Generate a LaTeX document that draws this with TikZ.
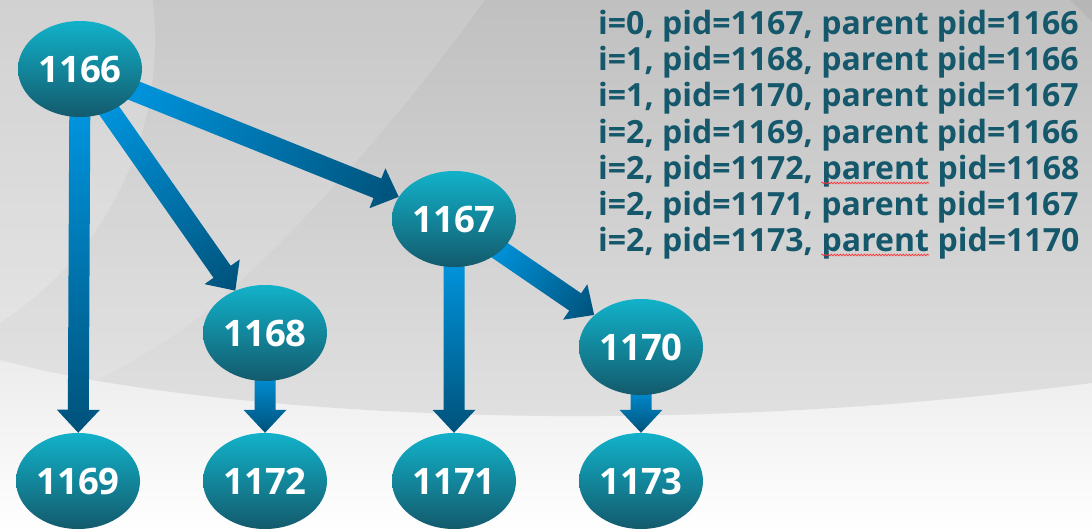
\documentclass[tikz,border=0pt]{standalone}
\usepackage{fontspec}
\setmainfont{Open Sans}
\usetikzlibrary{shapes.geometric,calc,decorations.pathmorphing}
\definecolor{nodetop}{HTML}{12B2CA}
\definecolor{nodebot}{HTML}{135A6C}
\definecolor{arA}{HTML}{0096E0}
\definecolor{arB}{HTML}{00527A}
\definecolor{txtc}{HTML}{15586B}
\definecolor{bgtop}{HTML}{C0C0C0}
\definecolor{bgmid}{HTML}{E0E0E0}
\definecolor{bglow}{HTML}{EAEAEA}
\newcommand\blkarrow[2]{%
  \path (#1) -- (#2) coordinate[pos=0] (#1-#2-s) coordinate[pos=1] (#1-#2-e);
  \pgfpointdiff{\pgfpointanchor{#1-#2-s}{center}}{\pgfpointanchor{#1-#2-e}{center}}%
  \pgfgetlastxy{\ardx}{\ardy}%
  \pgfmathsetmacro\arang{atan2(\ardy,\ardx)}%
  \pgfmathsetmacro\arlen{veclen(\ardx,\ardy)}%
  \begin{scope}[transform canvas={shift={(#1-#2-s)},rotate=\arang}]
    \shade[arrowfill]
      (-12pt,-10.5pt) -- ({\arlen pt-23pt},-10.5pt) -- ({\arlen pt-23pt},-21.5pt)
      -- (\arlen pt,0pt) -- ({\arlen pt-23pt},21.5pt) -- ({\arlen pt-23pt},10.5pt)
      -- (-12pt,10.5pt) -- cycle;
  \end{scope}}
\tikzset{
  proc/.style={ellipse, minimum width=124pt, minimum height=96pt, inner sep=0pt,
    top color=nodetop, bottom color=nodebot, text=white,
    font=\fontsize{36.5}{40}\selectfont\bfseries},
  arrowfill/.style={left color=arA, right color=arB},
  txt/.style={anchor=base west, inner sep=0pt, text=txtc,
    font=\fontsize{32}{36}\selectfont\bfseries},
  wavy/.style={draw=red!80!white, line width=0.7pt, decorate,
    decoration={snake, amplitude=0.9pt, segment length=3pt}}
}
\begin{document}
\begin{tikzpicture}[x=1pt,y=-1pt]
\useasboundingbox (0,0) rectangle (1092,532);
% background
\fill[bglow] (0,0) rectangle (1092,340);
\shade[top color=bglow, bottom color=white] (0,340) rectangle (1092,532);
\shade[top color=bgtop, bottom color=bgmid]
  (0,0) -- (1092,0) -- (1092,383) .. controls (900,408) and (720,417) .. (550,416)
  .. controls (320,414) and (120,392) .. (0,360) -- cycle;
\begin{scope}
  \clip (0,0) -- (1092,0) -- (1092,383) .. controls (900,408) and (720,417) .. (550,416)
  .. controls (320,414) and (120,392) .. (0,360) -- cycle;
  \fill[white, opacity=0.13] (0,0) -- (485,0) .. controls (420,90) and (330,200) .. (220,300)
    .. controls (150,360) and (60,400) .. (0,420) -- cycle;
  \fill[white, opacity=0.18] (-180,40) circle (335);
\end{scope}
\fill[black, opacity=0.05] (1070,0) -- (1092,0) -- (1092,22) -- cycle;
% nodes (positions)
\path (80,69) coordinate (p1166) (454,219) coordinate (p1167) (265,333) coordinate (p1168)
  (641,347) coordinate (p1170) (78,481) coordinate (p1169) (265,481) coordinate (p1172)
  (454,481) coordinate (p1171) (641,481) coordinate (p1173);
\begin{scope}[every node/.style={proc, opacity=0}]
\node (n1166) at (p1166) {1166};
\node (n1167) at (p1167) {1167};
\node (n1168) at (p1168) {1168};
\node (n1170) at (p1170) {1170};
\node (n1169) at (p1169) {1169};
\node (n1172) at (p1172) {1172};
\node (n1171) at (p1171) {1171};
\node (n1173) at (p1173) {1173};
\end{scope}
% arrows
\blkarrow{n1166}{n1169}
\blkarrow{n1166}{n1168}
\blkarrow{n1166}{n1167}
\blkarrow{n1168}{n1172}
\blkarrow{n1167}{n1171}
\blkarrow{n1167}{n1170}
\blkarrow{n1170}{n1173}
% visible nodes
\node[proc] (v1166) at (n1166) {1166};
\node[proc] (v1167) at (n1167) {1167};
\node[proc] (v1168) at (n1168) {1168};
\node[proc] (v1170) at (n1170) {1170};
\node[proc] (v1169) at (n1169) {1169};
\node[proc] (v1172) at (n1172) {1172};
\node[proc] (v1171) at (n1171) {1171};
\node[proc] (v1173) at (n1173) {1173};
% text
\node[txt] (t1) at (598,35) {i=0, pid=1167, parent pid=1166};
\node[txt] (t2) at (598,71) {i=1, pid=1168, parent pid=1166};
\node[txt] (t3) at (598,107) {i=1, pid=1170, parent pid=1167};
\node[txt] (t4) at (598,143) {i=2, pid=1169, parent pid=1166};
\node[txt] (t5a) at (598,179) {i=2, pid=1172,};
\node[txt] (t5b) at ([xshift=8.3pt]t5a.base east) {parent};
\node[txt] (t5c) at ([xshift=8.3pt]t5b.base east) {pid=1168};
\node[txt] (t6) at (598,215) {i=2, pid=1171, parent pid=1167};
\node[txt] (t7a) at (598,251) {i=2, pid=1173,};
\node[txt] (t7b) at ([xshift=8.3pt]t7a.base east) {parent};
\node[txt] (t7c) at ([xshift=8.3pt]t7b.base east) {pid=1170};
\draw[wavy] ([yshift=-4pt]t5b.base west) -- ([yshift=-4pt]t5b.base east);
\draw[wavy] ([yshift=-4pt]t7b.base west) -- ([yshift=-4pt]t7b.base east);
\end{tikzpicture}
\end{document}
